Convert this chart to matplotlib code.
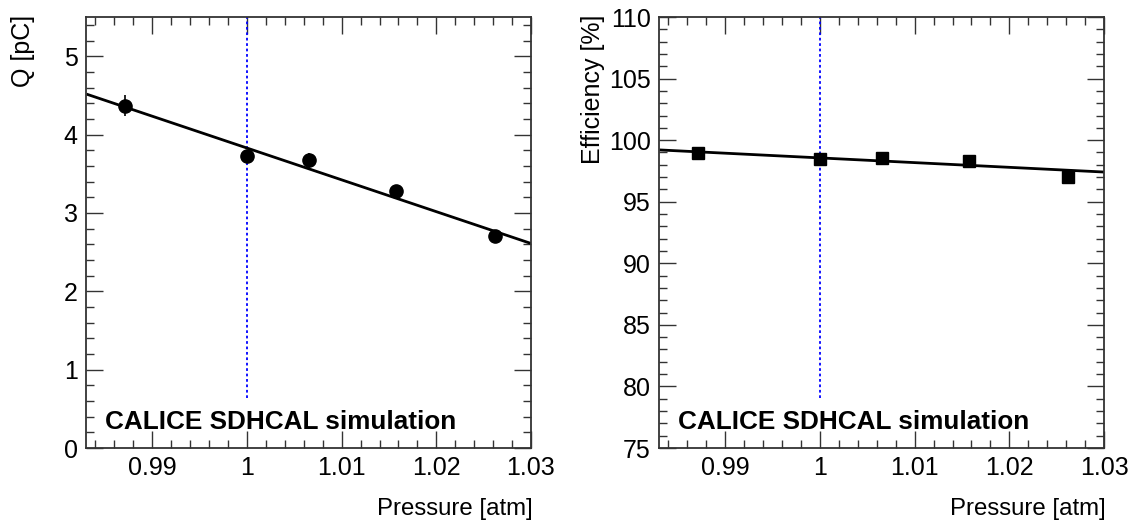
import matplotlib
matplotlib.use("Agg")
import matplotlib.pyplot as plt
from matplotlib.ticker import MultipleLocator, FixedLocator

plt.rcParams['font.family'] = ['Liberation Sans', 'DejaVu Sans']

# ---- data ----
pressure = [0.9871, 1.0, 1.0066, 1.0157, 1.0262]
charge = [4.37, 3.73, 3.67, 3.28, 2.70]
charge_err = [0.13, 0.05, 0.10, 0.05, 0.04]
efficiency = [98.93, 98.48, 98.53, 98.29, 96.99]
efficiency_err = [0.2, 0.25, 0.2, 0.35, 0.55]

fit_x = [0.9832, 1.0300]
fit_charge = [4.51, 2.61]
fit_eff = [99.20, 97.41]

ref_pressure = 1.0
x_ticks = [0.99, 1.0, 1.01, 1.02, 1.03]
x_tick_labels = ['0.99', '1', '1.01', '1.02', '1.03']
label_text = 'CALICE SDHCAL simulation'

W, H = 1137, 528
fig = plt.figure(figsize=(W / 100, H / 100), dpi=100)

def make_ax(x0, x1):
    return fig.add_axes([x0 / W, 1 - 448 / H, (x1 - x0) / W, (448 - 17) / H])

ax1 = make_ax(86, 531)
ax2 = make_ax(659, 1104)

FS = 18

def style(ax, ylim, ymaj, ymin_):
    ax.set_xlim(0.983, 1.03)
    ax.set_ylim(*ylim)
    ax.xaxis.set_major_locator(FixedLocator(x_ticks))
    ax.set_xticklabels(x_tick_labels)
    ax.xaxis.set_minor_locator(MultipleLocator(0.002))
    ax.yaxis.set_major_locator(MultipleLocator(ymaj))
    ax.yaxis.set_minor_locator(MultipleLocator(ymin_))
    ax.tick_params(which='both', direction='in', top=True, right=True,
                   width=1.0, labelsize=FS, color='#333333')
    ax.tick_params(which='major', length=12, pad=6)
    ax.tick_params(which='minor', length=6)
    for sp in ax.spines.values():
        sp.set_linewidth(1.3)
        sp.set_color('#333333')

def finish(ax, ylabel, ylab_x):
    ax.text(0.043, 0.045, label_text, transform=ax.transAxes, fontsize=18.8,
            fontweight='bold', va='baseline')
    ax.set_ylabel(ylabel, fontsize=FS)
    ax.yaxis.set_label_coords(ylab_x, 1.005)
    ax.yaxis.label.set_horizontalalignment('right')
    ax.yaxis.label.set_verticalalignment('bottom')
    ax.set_xlabel('Pressure [atm]', fontsize=17.3)
    ax.xaxis.set_label_coords(1.004, -0.115)
    ax.xaxis.label.set_horizontalalignment('right')
    ax.xaxis.label.set_verticalalignment('top')

# left panel
style(ax1, (0, 5.5), 1, 0.2)
ax1.axvline(ref_pressure, ymin=0.116, ymax=1, color='blue', ls=(0, (1.5, 1.5)), lw=1.3)
ax1.plot(fit_x, fit_charge, color='black', lw=2)
ax1.errorbar(pressure, charge, yerr=charge_err, fmt='o', color='black',
             ms=9.5, elinewidth=1.2, capsize=0)
finish(ax1, 'Q [pC]', -0.115)

# right panel
style(ax2, (75, 110), 5, 1)
ax2.axvline(ref_pressure, ymin=0.116, ymax=1, color='blue', ls=(0, (1.5, 1.5)), lw=1.3)
ax2.plot(fit_x, fit_eff, color='black', lw=2)
ax2.errorbar(pressure, efficiency, yerr=efficiency_err, fmt='s', color='black',
             ms=8.5, elinewidth=1.2, capsize=0)
finish(ax2, 'Efficiency [%]', -0.121)

fig.savefig('out.png', dpi=100)
